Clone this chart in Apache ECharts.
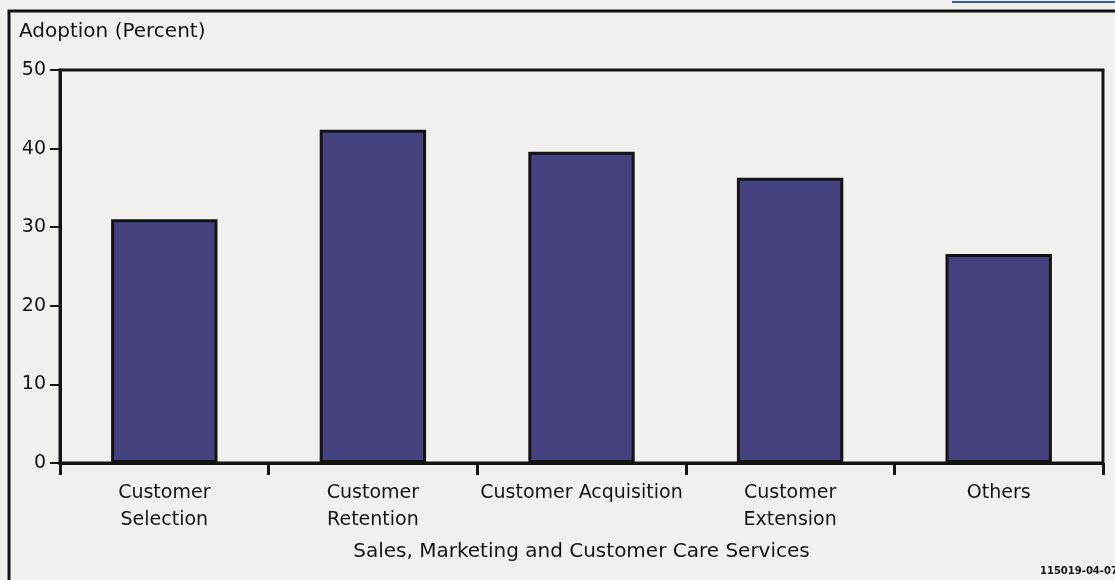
<!DOCTYPE html>
<html>
<head>
<meta charset="utf-8">
<script src="https://cdn.jsdelivr.net/npm/echarts@6/dist/echarts.min.js"></script>
<style>
  html, body { margin: 0; padding: 0; background: #f1f0ec; }
  #chart { width: 1115px; height: 580px; }
</style>
</head>
<body>
<div id="chart"></div>
<script>
// Adoption of sales, marketing and customer care services
const categories = [
  'Customer\nSelection',
  'Customer\nRetention',
  'Customer Acquisition',
  'Customer\nExtension',
  'Others'
];
const adoption = [31.0, 42.4, 39.6, 36.3, 26.6];
const yTicks = { min: 0, max: 50, interval: 10 };

const font = 'DejaVu Sans, Liberation Sans, Arial, sans-serif';
const ink = '#141414';

const chart = echarts.init(document.getElementById('chart'), null, { renderer: 'canvas' });

chart.setOption({
  backgroundColor: '#f1f0ec',
  animation: false,
  textStyle: { fontFamily: font, color: ink },
  title: {
    text: 'Adoption (Percent)',
    left: 19,
    top: 22,
    padding: 0,
    textStyle: { fontFamily: font, fontSize: 20, fontWeight: 'normal', color: ink }
  },
  grid: {
    left: 60,
    right: 12,
    top: 70,
    bottom: 117,
    show: true,
    borderColor: ink,
    borderWidth: 3,
    backgroundColor: 'transparent'
  },
  xAxis: {
    type: 'category',
    data: categories,
    name: 'Sales, Marketing and Customer Care Services',
    nameLocation: 'middle',
    nameGap: 79,
    nameTextStyle: { fontFamily: font, fontSize: 20, color: ink },
    axisLine: { lineStyle: { color: ink, width: 3 } },
    axisTick: { show: true, inside: false, interval: 0, length: 12, lineStyle: { color: ink, width: 3 } },
    axisLabel: {
      interval: 0,
      fontFamily: font,
      fontSize: 19,
      color: ink,
      margin: 17,
      lineHeight: 27
    },
    splitLine: { show: false }
  },
  yAxis: {
    type: 'value',
    min: yTicks.min,
    max: yTicks.max,
    interval: yTicks.interval,
    axisLine: { show: true, lineStyle: { color: ink, width: 3 } },
    axisTick: { show: true, inside: false, length: 10, lineStyle: { color: ink, width: 2 } },
    axisLabel: { fontFamily: font, fontSize: 19, color: ink, margin: 14 },
    splitLine: { show: false }
  },
  series: [{
    type: 'bar',
    data: adoption,
    barWidth: '51%',
    itemStyle: {
      color: '#45427f',
      borderColor: ink,
      borderWidth: 3
    }
  }],
  graphic: [
    {
      type: 'rect',
      shape: { x: 9, y: 11, width: 1200, height: 700 },
      style: { fill: 'none', stroke: ink, lineWidth: 3 },
      silent: true
    },
    {
      type: 'line',
      shape: { x1: 952, y1: 2, x2: 1115, y2: 2 },
      style: { stroke: '#3a5aa8', lineWidth: 2 },
      silent: true
    },
    {
      type: 'text',
      left: 1040,
      top: 566,
      style: {
        text: '115019-04-07',
        fontFamily: font,
        fontSize: 10,
        fontWeight: 'bold',
        fill: ink
      },
      silent: true
    }
  ]
});
</script>
</body>
</html>
